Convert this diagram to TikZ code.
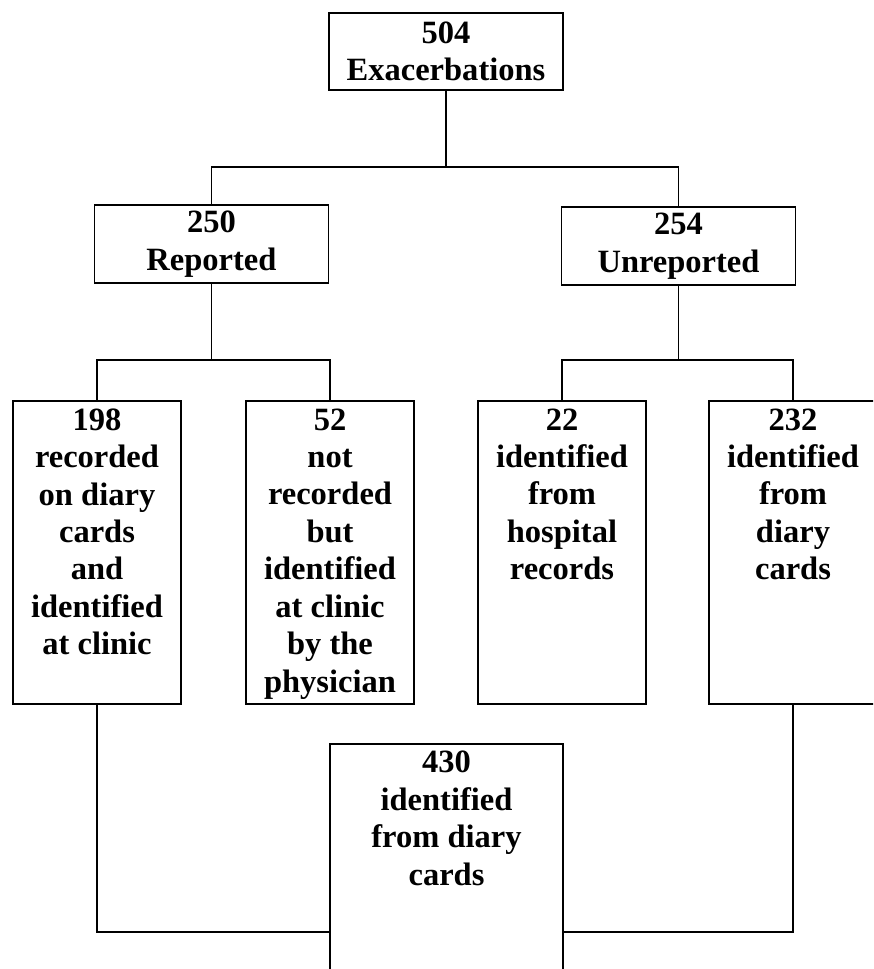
\documentclass[tikz,border=0pt]{standalone}
\usepackage{fontspec}
\setmainfont{Liberation Serif}
\usetikzlibrary{positioning,calc}
\newcommand{\flowfont}{\bfseries\fontsize{18.5}{21.3}\selectfont}
\newcommand{\sourcetext}[1]{\parbox[t][5.75cm][t]{2.9cm}{\centering #1}}
\newcommand{\totaltext}[1]{\parbox[t][5.1cm][t]{3.9cm}{\centering #1}}
\tikzset{
  groupbox/.style={draw,line width=0.9pt,minimum width=4.68cm,minimum height=1.55cm,align=center,font=\flowfont},
  sourcebox/.style={draw,line width=0.9pt,minimum width=3.36cm,minimum height=6.06cm,anchor=north,font=\flowfont},
  totalbox/.style={draw,line width=0.9pt,minimum width=4.66cm,minimum height=5.4cm,anchor=north,font=\flowfont},
  link/.style={line width=0.9pt}
}

\begin{document}
\begin{tikzpicture}
\useasboundingbox (0,0) rectangle (17.46,-19.38);
\clip (0,0) rectangle (17.46,-19.38);

\node[groupbox] (exac) at (8.92,-1.03) {504\\Exacerbations};
\node[groupbox] (rep) at (4.23,-4.88) {250\\Reported};
\node[groupbox] (unrep) at (13.57,-4.92) {254\\Unreported};

\node[sourcebox] (diary) at (1.94,-8.0) {\sourcetext{198\\recorded\\on diary\\cards\\and\\identified\\at clinic}};
\node[sourcebox] (clinic) at (6.6,-8.0) {\sourcetext{52\\not\\recorded\\but\\identified\\at clinic\\by the\\physician}};
\node[sourcebox] (hosp) at (11.24,-8.0) {\sourcetext{22\\identified\\from\\hospital\\records}};
\node[sourcebox] (unrepdiary) at (15.86,-8.0) {\sourcetext{232\\identified\\from\\diary\\cards}};

\node[totalbox] (cards) at (8.93,-14.86) {\totaltext{430\\identified\\from diary\\cards}};

\coordinate (split) at (8.92,-3.34);
\coordinate (repsplit) at (rep.south |- 0,-7.2);
\coordinate (unrepsplit) at (unrep.south |- 0,-7.2);

\draw[link] (exac) -- (split);
\draw[link] (rep) |- (split) -| (unrep);
\draw[link] (rep) -- (repsplit);
\draw[link] (diary) |- (repsplit) -| (clinic);
\draw[link] (unrep) -- (unrepsplit);
\draw[link] (hosp) |- (unrepsplit) -| (unrepdiary);
\draw[link] (diary) |- (cards.west |- 0,-18.64);
\draw[link] (unrepdiary) |- (cards.east |- 0,-18.64);
\end{tikzpicture}
\end{document}
